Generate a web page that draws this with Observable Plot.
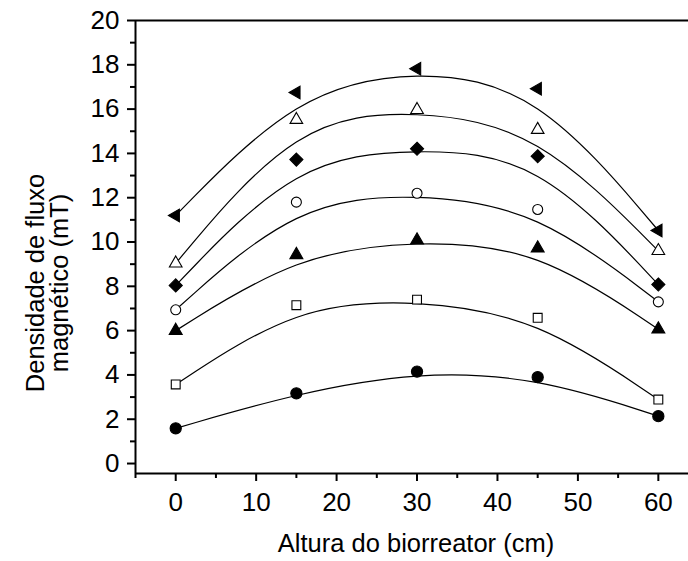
<!DOCTYPE html>
<html><head><meta charset="utf-8">
<script src="https://cdn.jsdelivr.net/npm/d3@7"></script>
<script src="https://cdn.jsdelivr.net/npm/@observablehq/plot@0.6"></script>
<style>html,body{margin:0;padding:0;background:#fff} svg{display:block}</style>
</head><body><div id="chart"></div>
<script>
// ---- data ----
const heights = [0, 15, 30, 45, 60];
const seriesLeftTri    = [11.2, 16.75, 17.82, 16.92, 10.52];
const seriesOpenTri    = [9.04, 15.52, 15.97, 15.07, 9.6];
const seriesDiamond    = [8.04, 13.72, 14.21, 13.87, 8.08];
const seriesOpenCircle = [6.94, 11.8, 12.2, 11.47, 7.3];
const seriesFilledTri  = [6.0, 9.42, 10.08, 9.72, 6.06];
const seriesOpenSquare = [3.57, 7.15, 7.4, 6.58, 2.89];
const seriesFilledCirc = [1.59, 3.17, 4.15, 3.9, 2.14];

const xTicks = [0, 10, 20, 30, 40, 50, 60];
const xMinorTicks = [-5, 5, 15, 25, 35, 45, 55];
const yTicks = [0, 2, 4, 6, 8, 10, 12, 14, 16, 18, 20];
const yMinorTicks = [1, 3, 5, 7, 9, 11, 13, 15, 17, 19];
const xDomain = [-5, 63.75];
const yDomain = [-0.45, 20];
const xLabel = "Altura do biorreator (cm)";
const yLabel1 = "Densidade de fluxo";
const yLabel2 = "magnético (mT)";

// ---- styles ----
const seriesList = [
  {values: seriesLeftTri,    symbol: "triangle", fill: "black", r: 4.7, rotate: -90},
  {values: seriesOpenTri,    symbol: "triangle", fill: "white", r: 4.7, rotate: 0},
  {values: seriesDiamond,    symbol: "diamond2", fill: "black", r: 5.9, rotate: 0},
  {values: seriesOpenCircle, symbol: "circle",   fill: "white", r: 5.0, rotate: 0},
  {values: seriesFilledTri,  symbol: "triangle", fill: "black", r: 4.8, rotate: 0},
  {values: seriesOpenSquare, symbol: "square",   fill: "white", r: 5.0, rotate: 0},
  {values: seriesFilledCirc, symbol: "circle",   fill: "black", r: 5.6, rotate: 0}
];
const rows = seriesList.flatMap((s, i) => heights.map((h, j) => ({x: h, y: s.values[j], series: i})));

const FONT = "'Liberation Sans', Arial, sans-serif";
const FS = 26;
const FT = 25.5;

const marks = [
  Plot.ruleY([yDomain[1]], {stroke: "black", strokeWidth: 2}),
  Plot.ruleY([yDomain[0]], {stroke: "black", strokeWidth: 2}),
  Plot.ruleX([xDomain[0]], {stroke: "black", strokeWidth: 2}),
  Plot.axisX({ticks: xTicks, tickSize: 8, tickPadding: 11, strokeWidth: 2, fontSize: FS, label: null}),
  Plot.axisX({ticks: xMinorTicks, tickSize: 5, strokeWidth: 2, tickFormat: () => "", label: null}),
  Plot.axisY({ticks: yTicks, tickSize: 8, tickPadding: 8, strokeWidth: 2, fontSize: FS, label: null}),
  Plot.axisY({ticks: yMinorTicks, tickSize: 5, strokeWidth: 2, tickFormat: () => "", label: null}),
  Plot.line(rows, {x: "x", y: "y", z: "series", curve: "basis", stroke: "black", strokeWidth: 1.2}),
  ...seriesList.map((s, i) => Plot.dot(rows.filter(d => d.series === i), {
    x: "x", y: "y", symbol: s.symbol, r: s.r, rotate: s.rotate,
    fill: s.fill, stroke: "black", strokeWidth: 1.1
  })),
  Plot.text([xLabel], {frameAnchor: "bottom", text: d => d, dy: 78, dx: 4, textAnchor: "middle", lineAnchor: "bottom", fontSize: FT}),
  Plot.text([yLabel1], {frameAnchor: "left", text: d => d, dx: -92, dy: 36, rotate: -90, textAnchor: "middle", lineAnchor: "bottom", fontSize: FT}),
  Plot.text([yLabel2], {frameAnchor: "left", text: d => d, dx: -68, dy: 36, rotate: -90, textAnchor: "middle", lineAnchor: "bottom", fontSize: FT})
];

const chart = Plot.plot({
  width: 688,
  height: 561,
  marginLeft: 135,
  marginRight: 0,
  marginTop: 20,
  marginBottom: 88,
  style: {fontFamily: FONT, fontSize: FS + "px", color: "black", background: "white", overflow: "visible"},
  x: {domain: xDomain},
  y: {domain: yDomain},
  marks
});
document.getElementById("chart").appendChild(chart);
</script>
</body></html>
